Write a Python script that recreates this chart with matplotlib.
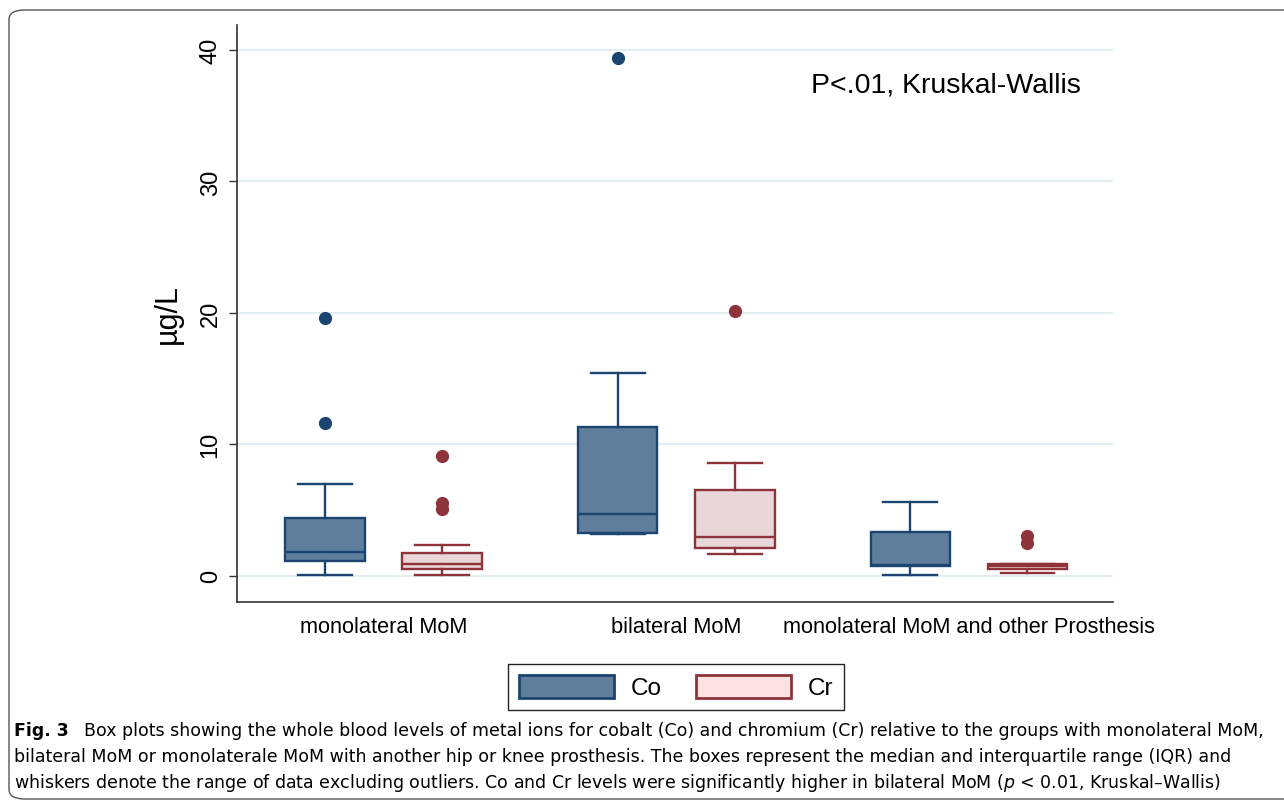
import matplotlib
matplotlib.use("Agg")
import matplotlib.pyplot as plt
from matplotlib.patches import Patch, FancyBboxPatch

plt.rcParams['font.family'] = ['Liberation Sans', 'DejaVu Sans']

groups = ["monolateral MoM", "bilateral MoM", "monolateral MoM and other Prosthesis"]
series = ["Co", "Cr"]

# box stats (µg/L)
co_whislo = [0.05, 3.15, 0.05]
co_q1 = [1.15, 3.27, 0.75]
co_med = [1.8, 4.67, 0.8]
co_q3 = [4.4, 11.35, 3.32]
co_whishi = [7.0, 15.45, 5.63]
co_fliers = [[19.6, 11.6], [39.4], []]

cr_whislo = [0.03, 1.62, 0.17]
cr_q1 = [0.52, 2.12, 0.52]
cr_med = [0.9, 2.97, 0.7]
cr_q3 = [1.72, 6.52, 0.9]
cr_whishi = [2.36, 8.6, 0.9]
cr_fliers = [[9.1, 5.55, 5.1], [20.15], [3.05, 2.5]]

co_fill, co_edge = "#5f7e9b", "#1b4570"
cr_fill, cr_edge = "#e8d6d8", "#8f333a"


def make_stats(lo, q1, med, q3, hi, fl):
    return [dict(whislo=a, q1=b, med=c, q3=d, whishi=e, fliers=f)
            for a, b, c, d, e, f in zip(lo, q1, med, q3, hi, fl)]


fig = plt.figure(figsize=(12.84, 8.03), dpi=100)
ax = fig.add_axes([0.1846, 0.2491, 0.6822, 0.7185])

co_pos = [0, 2.5, 5]
cr_pos = [1, 3.5, 6]

for stats, pos, fill, edge in [
        (make_stats(co_whislo, co_q1, co_med, co_q3, co_whishi, co_fliers), co_pos, co_fill, co_edge),
        (make_stats(cr_whislo, cr_q1, cr_med, cr_q3, cr_whishi, cr_fliers), cr_pos, cr_fill, cr_edge)]:
    ax.bxp(stats, positions=pos, widths=0.68, patch_artist=True,
           showfliers=True,
           boxprops=dict(facecolor=fill, edgecolor=edge, linewidth=1.7),
           medianprops=dict(color=edge, linewidth=1.7),
           whiskerprops=dict(color=edge, linewidth=1.7),
           capprops=dict(color=edge, linewidth=1.7),
           capwidths=0.46,
           flierprops=dict(marker='o', markerfacecolor=edge, markeredgecolor=edge,
                           markersize=8.5))

ax.set_xlim(-0.75, 6.73)
ax.set_ylim(-2, 41.9)
ax.set_yticks([0, 10, 20, 30, 40])
ax.set_yticklabels(["0", "10", "20", "30", "40"], rotation=90, va='center', fontsize=17)
ax.set_xticks([0.5, 3.0, 5.5])
ax.set_xticklabels(groups, fontsize=15.7)
ax.tick_params(axis='x', length=0, pad=10)
ax.tick_params(axis='y', length=6, width=1, color='#333333', pad=5)
ax.grid(axis='y', color='#e4edf1', linewidth=1.5)
ax.set_axisbelow(True)
for s in ['top', 'right']:
    ax.spines[s].set_visible(False)
for s in ['left', 'bottom']:
    ax.spines[s].set_color('#333333')
    ax.spines[s].set_linewidth(1.2)
ax.set_ylabel("µg/L", fontsize=22, labelpad=12)

ax.text(4.15, 37.4, "P<.01, Kruskal-Wallis", fontsize=20.5, va='center', ha='left')

handles = [Patch(facecolor=co_fill, edgecolor=co_edge, linewidth=2),
           Patch(facecolor="#fde2e2", edgecolor=cr_edge, linewidth=2)]
leg = fig.legend(handles, series, loc='center', bbox_to_anchor=(0.5265, 0.1432),
                 ncol=2, fontsize=17.5, handlelength=3.9, handleheight=1.1,
                 handletextpad=0.7, columnspacing=1.4, fancybox=False,
                 borderpad=0.45, framealpha=1)
leg.get_frame().set_edgecolor('#222222')
leg.get_frame().set_linewidth(1.0)

# rounded frame round the figure panel
W, H = 1284, 803
frame = FancyBboxPatch((9 / W, (H - 800) / H), 1.1, (800 - 11) / H,
                       boxstyle="round,pad=0,rounding_size=0.012",
                       transform=fig.transFigure, facecolor='none',
                       edgecolor='#555555', linewidth=1.0)
fig.patches.append(frame)

cap_font = ['DejaVu Sans']
fig.text(14 / W, 1 - 731 / H, "Fig. 3", fontsize=12.5, fontweight='bold',
         family=cap_font, va='center')
fig.text(84 / W, 1 - 731 / H,
         "Box plots showing the whole blood levels of metal ions for cobalt (Co) and chromium (Cr) "
         "relative to the groups with monolateral MoM,",
         fontsize=12.5, family=cap_font, va='center')
fig.text(14 / W, 1 - 757 / H,
         "bilateral MoM or monolaterale MoM with another hip or knee prosthesis. The boxes represent "
         "the median and interquartile range (IQR) and",
         fontsize=12.5, family=cap_font, va='center')
fig.text(14 / W, 1 - 783 / H,
         "whiskers denote the range of data excluding outliers. Co and Cr levels were significantly "
         "higher in bilateral MoM ($\\it{p}$ < 0.01, Kruskal–Wallis)",
         fontsize=12.5, family=cap_font, va='center')

fig.savefig("out.png", dpi=100)
